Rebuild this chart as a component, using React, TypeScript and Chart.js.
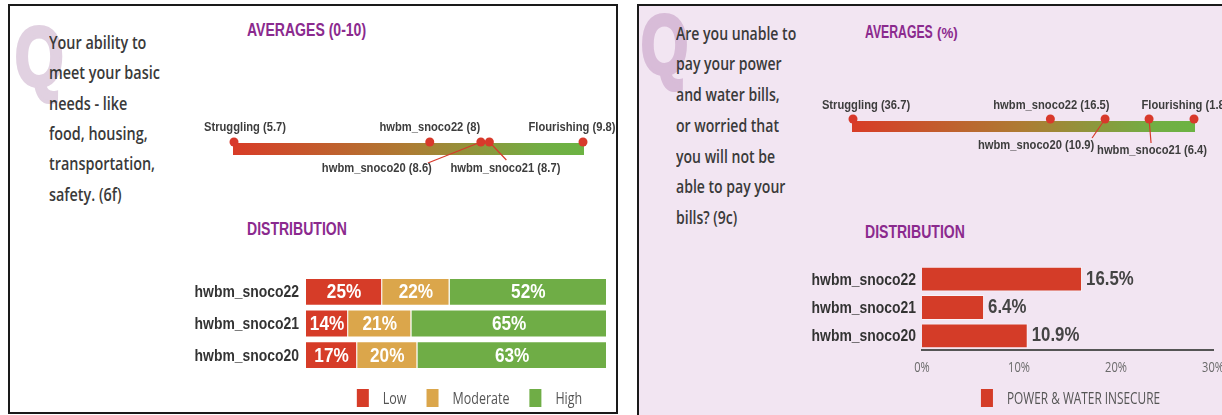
import React, { useEffect, useRef } from "react";
import { Chart, registerables } from "chart.js";

Chart.register(...registerables);

// ---------- Panel 1 data ----------
const avgLabels1 = ["Struggling", "hwbm_snoco22", "hwbm_snoco20", "hwbm_snoco21", "Flourishing"];
const avgValues1 = [5.7, 8, 8.6, 8.7, 9.8];
const distCategories1 = ["hwbm_snoco22", "hwbm_snoco21", "hwbm_snoco20"];
const distSeries1 = ["Low", "Moderate", "High"];
const lowValues = [25.3, 14, 17];
const moderateValues = [22.4, 21, 20];
const highValues = [52.3, 65, 63];

// ---------- Panel 2 data ----------
const avgLabels2 = ["Struggling", "hwbm_snoco22", "hwbm_snoco20", "hwbm_snoco21", "Flourishing"];
const avgValues2 = [36.7, 16.5, 10.9, 6.4, 1.8];
const distCategories2 = ["hwbm_snoco22", "hwbm_snoco21", "hwbm_snoco20"];
const distSeries2 = ["POWER & WATER INSECURE"];
const insecureValues = [16.5, 6.4, 10.9];
const xTicks2 = [0, 10, 20, 30];

// ---------- styles ----------
const RED = "#d63c28";
const GOLD = "#dba64b";
const GREEN = "#6fad46";
const PURPLE = "#8b2a8e";
const TEXT = "#3a3a3a";
const SANS = '"Liberation Sans", Arial, sans-serif';
const OPEN = '"Open Sans", sans-serif';

type Place = { dx: number; dy: number; lx?: number; ly?: number };

const places1: Place[] = [
  { dx: 11, dy: -15 },
  { dx: 0, dy: -15 },
  { dx: -104, dy: 26, lx: -53, ly: 21 },
  { dx: 16, dy: 26, lx: 17, ly: 18 },
  { dx: -11, dy: -15 },
];
const places2: Place[] = [
  { dx: 13, dy: -14 },
  { dx: 1, dy: -14 },
  { dx: -69, dy: 26, lx: -13, ly: 19 },
  { dx: 3, dy: 31, lx: 2, ly: 24 },
  { dx: -9, dy: -14 },
];

function drawText(
  ctx: CanvasRenderingContext2D,
  text: string,
  x: number,
  y: number,
  font: string,
  color: string,
  align: CanvasTextAlign,
  sx: number
) {
  ctx.save();
  ctx.font = font;
  ctx.fillStyle = color;
  ctx.textAlign = align;
  ctx.textBaseline = "middle";
  ctx.translate(x, y);
  ctx.scale(sx, 1);
  ctx.fillText(text, 0, 0);
  ctx.restore();
}

// y-axis category labels drawn from the category scale, in a condensed face
function categoryLabelsPlugin(pad: number) {
  return {
    id: "catLabels",
    afterDraw(chart: any) {
      const ctx = chart.ctx as CanvasRenderingContext2D;
      const ys = chart.scales.y;
      const labels: string[] = chart.data.labels;
      labels.forEach((lab, i) => {
        drawText(ctx, lab, chart.chartArea.left - pad, ys.getPixelForTick(i) + 1, `bold 16px ${SANS}`, "#333", "right", 0.87);
      });
    },
  };
}

// legend drawn from the datasets
function legendPlugin(centerOffset: number, yRel: number, sx: number) {
  return {
    id: "customLegend",
    afterDraw(chart: any) {
      const ctx = chart.ctx as CanvasRenderingContext2D;
      const font = `16px ${OPEN}`;
      ctx.save();
      ctx.font = font;
      const items = chart.data.datasets.map((ds: any) => ({
        text: ds.label as string,
        color: ds.backgroundColor as string,
        w: ctx.measureText(ds.label).width * sx,
      }));
      ctx.restore();
      const boxW = 12;
      const boxH = 18;
      const gap = 14;
      const spacing = 20;
      const total = items.reduce((s: number, it: any) => s + boxW + gap + it.w, 0) + spacing * (items.length - 1);
      const cx = (chart.chartArea.left + chart.chartArea.right) / 2 + centerOffset;
      let x = cx - total / 2;
      items.forEach((it: any) => {
        ctx.save();
        ctx.fillStyle = it.color;
        ctx.fillRect(x, yRel - boxH / 2, boxW, boxH);
        ctx.restore();
        drawText(ctx, it.text, x + boxW + gap, yRel + 1, font, "#555", "left", sx);
        x += boxW + gap + it.w + spacing;
      });
    },
  };
}

function averagesConfig(
  labels: string[],
  values: number[],
  places: Place[],
  barOffset: number,
  barHeight: number,
  padL: number,
  padR: number
): any {
  const lo = Math.min(...values);
  const hi = Math.max(...values);
  const reverse = values[0] > values[values.length - 1];
  const barPlugin = {
    id: "gradBar",
    beforeDatasetsDraw(chart: any) {
      const ctx = chart.ctx as CanvasRenderingContext2D;
      const xs = chart.scales.x;
      const ys = chart.scales.y;
      const xa = xs.getPixelForValue(values[0]);
      const xb = xs.getPixelForValue(values[values.length - 1]);
      const y = ys.getPixelForValue(0);
      const g = ctx.createLinearGradient(xa, 0, xb, 0);
      g.addColorStop(0, "#d83c27");
      g.addColorStop(0.5, "#ad7c33");
      g.addColorStop(0.88, "#72ae44");
      g.addColorStop(1, "#6cb343");
      ctx.save();
      ctx.fillStyle = g;
      ctx.fillRect(xa - 1, y + barOffset, xb - xa + 2, barHeight);
      const meta = chart.getDatasetMeta(0);
      ctx.strokeStyle = "#d8392b";
      ctx.lineWidth = 1.2;
      meta.data.forEach((pt: any, i: number) => {
        const p = places[i];
        if (p.lx !== undefined && p.ly !== undefined) {
          ctx.beginPath();
          ctx.moveTo(pt.x, pt.y);
          ctx.lineTo(pt.x + p.lx, pt.y + p.ly);
          ctx.stroke();
        }
      });
      ctx.restore();
    },
  };
  const labelPlugin = {
    id: "avgLabels",
    afterDatasetsDraw(chart: any) {
      const ctx = chart.ctx as CanvasRenderingContext2D;
      const meta = chart.getDatasetMeta(0);
      meta.data.forEach((pt: any, i: number) => {
        const p = places[i];
        drawText(ctx, `${labels[i]} (${values[i]})`, pt.x + p.dx, pt.y + p.dy, `bold 13px ${SANS}`, "#3d3d3d", "center", 0.86);
      });
    },
  };
  return {
    type: "scatter",
    data: {
      datasets: [
        {
          data: values.map((v) => ({ x: v, y: 0 })),
          pointRadius: 4.5,
          pointBackgroundColor: "#d8392b",
          pointBorderWidth: 0,
          pointHoverRadius: 4.5,
          clip: false,
        },
      ],
    },
    options: {
      animation: false,
      responsive: false,
      maintainAspectRatio: false,
      events: [],
      layout: { padding: { left: padL, right: padR, top: 0, bottom: 0 } },
      scales: {
        x: { type: "linear", min: lo, max: hi, reverse, display: false },
        y: { min: -1, max: 1, display: false },
      },
      plugins: { legend: { display: false }, tooltip: { enabled: false } },
    },
    plugins: [barPlugin, labelPlugin],
  };
}

function stackedConfig(): any {
  const segLabels = {
    id: "segLabels",
    afterDatasetsDraw(chart: any) {
      const ctx = chart.ctx as CanvasRenderingContext2D;
      chart.data.datasets.forEach((ds: any, di: number) => {
        const meta = chart.getDatasetMeta(di);
        meta.data.forEach((bar: any, i: number) => {
          const v = ds.data[i];
          const cx = (bar.x + bar.base) / 2;
          drawText(ctx, `${Math.round(v)}%`, cx, bar.y + 1, `bold 20px ${SANS}`, "#ffffff", "center", 0.86);
        });
      });
    },
  };
  const colors = [RED, GOLD, GREEN];
  const seriesData = [lowValues, moderateValues, highValues];
  return {
    type: "bar",
    data: {
      labels: distCategories1,
      datasets: distSeries1.map((name, k) => ({
        label: name,
        data: seriesData[k],
        backgroundColor: colors[k],
        borderColor: "#ffffff",
        borderWidth: 1,
        barPercentage: 0.88,
        categoryPercentage: 1,
      })),
    },
    options: {
      indexAxis: "y",
      animation: false,
      responsive: false,
      maintainAspectRatio: false,
      events: [],
      layout: { padding: { top: 14, right: 5, left: 0, bottom: 45 } },
      scales: {
        x: { stacked: true, min: 0, max: 100, display: false },
        y: {
          stacked: true,
          grid: { display: false, drawTicks: false },
          border: { display: false },
          ticks: { display: false },
          afterFit: (s: any) => {
            s.width = 136;
          },
        },
      },
      plugins: { legend: { display: false }, tooltip: { enabled: false } },
    },
    plugins: [segLabels, categoryLabelsPlugin(7), legendPlugin(13, 136, 0.78)],
  };
}

function insecureConfig(): any {
  const valLabels = {
    id: "valLabels",
    afterDatasetsDraw(chart: any) {
      const ctx = chart.ctx as CanvasRenderingContext2D;
      const meta = chart.getDatasetMeta(0);
      meta.data.forEach((bar: any, i: number) => {
        drawText(ctx, `${insecureValues[i]}%`, bar.x + 4, bar.y, `bold 20px ${SANS}`, "#444", "left", 0.84);
      });
    },
  };
  const tickLabels = {
    id: "xTickLabels",
    afterDraw(chart: any) {
      const ctx = chart.ctx as CanvasRenderingContext2D;
      const xs = chart.scales.x;
      xTicks2.forEach((v) => {
        drawText(ctx, `${v}%`, xs.getPixelForValue(v), chart.chartArea.bottom + 18, `15px ${OPEN}`, "#6a6a6a", "center", 0.74);
      });
    },
  };
  return {
    type: "bar",
    data: {
      labels: distCategories2,
      datasets: [
        {
          label: distSeries2[0],
          data: insecureValues,
          backgroundColor: "#d43c28",
          borderColor: "rgba(255,255,255,0.55)",
          borderWidth: 1,
          barPercentage: 0.875,
          categoryPercentage: 1,
        },
      ],
    },
    options: {
      indexAxis: "y",
      animation: false,
      responsive: false,
      maintainAspectRatio: false,
      events: [],
      layout: { padding: { top: 15, right: 27, left: 0, bottom: 66 } },
      scales: {
        x: {
          min: xTicks2[0],
          max: xTicks2[xTicks2.length - 1],
          afterBuildTicks: (s: any) => {
            s.ticks = xTicks2.map((v) => ({ value: v }));
          },
          grid: { display: false, drawTicks: false },
          border: { display: true, color: "#555", width: 2 },
          ticks: { display: false },
        },
        y: {
          grid: { display: false, drawTicks: false },
          border: { display: false },
          ticks: { display: false },
          afterFit: (s: any) => {
            s.width = 132;
          },
        },
      },
      plugins: { legend: { display: false }, tooltip: { enabled: false } },
    },
    plugins: [valLabels, tickLabels, categoryLabelsPlugin(6), legendPlugin(3, 148, 0.74)],
  };
}

function ChartBox(props: { left: number; top: number; width: number; height: number; make: () => any }) {
  const { left, top, width, height, make } = props;
  const ref = useRef<HTMLCanvasElement>(null);
  useEffect(() => {
    const chart = new Chart(ref.current as HTMLCanvasElement, make());
    return () => chart.destroy();
  }, []);
  return (
    <div style={{ position: "absolute", left, top, width, height }}>
      <canvas ref={ref} width={width} height={height} style={{ width, height, display: "block" }} />
    </div>
  );
}

function TextBlock(props: {
  left: number;
  top: number;
  text: string;
  size: number;
  lineHeight: number;
  color: string;
  weight: number | string;
  family: string;
  sx: number;
  stroke?: number;
}) {
  const { left, top, text, size, lineHeight, color, weight, family, sx, stroke } = props;
  const style: any = {
    position: "absolute",
    left,
    top,
    whiteSpace: "pre",
    fontSize: size,
    lineHeight: `${lineHeight}px`,
    color,
    fontWeight: weight as any,
    fontFamily: family,
    transform: `scaleX(${sx})`,
    transformOrigin: "left top",
  };
  if (stroke) {
    style.WebkitTextStroke = `${stroke}px ${color}`;
  }
  return <div style={style}>{text}</div>;
}

const question1 = ["Your ability to", "meet your basic", "needs - like", "food, housing,", "transportation,", "safety. (6f)"];
const question2 = [
  "Are you unable to",
  "pay your power",
  "and water bills,",
  "or worried that",
  "you will not be",
  "able to pay your",
  "bills? (9c)",
];

export default function App() {
  return (
    <div
      style={{
        position: "absolute",
        left: 0,
        top: 0,
        width: 1222,
        height: 415,
        overflow: "hidden",
        background: "#ffffff",
      }}
    >
      {/* Left panel */}
      <div
        style={{
          position: "absolute",
          left: 8,
          top: 4,
          width: 610,
          height: 410,
          border: "2px solid #1a1a1a",
          boxSizing: "border-box",
          background: "#ffffff",
        }}
      />
      {/* Right panel */}
      <div
        style={{
          position: "absolute",
          left: 637,
          top: 4,
          width: 600,
          height: 420,
          border: "2px solid #1a1a1a",
          boxSizing: "border-box",
          background: "#f2e5f2",
        }}
      />
      {/* Q watermarks */}
      <TextBlock left={15} top={15} text="Q" size={84} lineHeight={84} color="#e1d1e1" weight="bold" family={SANS} sx={0.74} stroke={4} />
      <TextBlock left={641} top={3} text="Q" size={84} lineHeight={84} color="#d8bcd8" weight="bold" family={SANS} sx={0.72} stroke={4} />

      {/* Question texts */}
      <TextBlock left={49} top={26.8} text={question1.join("\n")} size={18} lineHeight={30.4} color={TEXT} weight={600} family={OPEN} sx={0.8} />
      <TextBlock left={676} top={17.7} text={question2.join("\n")} size={18} lineHeight={30.7} color={TEXT} weight={600} family={OPEN} sx={0.78} />

      {/* Headings */}
      <TextBlock left={247} top={20} text="AVERAGES (0-10)" size={18} lineHeight={20} color={PURPLE} weight="bold" family={SANS} sx={0.78} />
      <TextBlock left={247} top={219} text="DISTRIBUTION" size={18} lineHeight={20} color={PURPLE} weight="bold" family={SANS} sx={0.78} />
      <TextBlock left={865} top={22} text="AVERAGES" size={18} lineHeight={20} color={PURPLE} weight="bold" family={SANS} sx={0.68} />
      <TextBlock left={937} top={23} text="(%)" size={14.5} lineHeight={20} color={PURPLE} weight="bold" family={SANS} sx={0.92} />
      <TextBlock left={865} top={222} text="DISTRIBUTION" size={18} lineHeight={20} color={PURPLE} weight="bold" family={SANS} sx={0.78} />

      {/* Charts */}
      <ChartBox left={190} top={100} width={430} height={84} make={() => averagesConfig(avgLabels1, avgValues1, places1, 1, 12, 44, 37)} />
      <ChartBox left={800} top={75} width={440} height={88} make={() => averagesConfig(avgLabels2, avgValues2, places2, 2, 11, 53, 46)} />
      <ChartBox left={170} top={262} width={442} height={154} make={stackedConfig} />
      <ChartBox left={790} top={250} width={450} height={166} make={insecureConfig} />
    </div>
  );
}
